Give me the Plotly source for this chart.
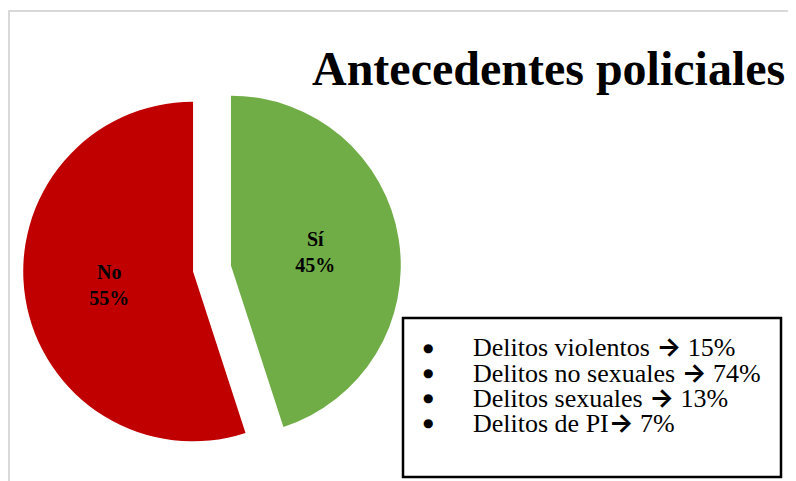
import plotly.graph_objects as go

labels = ["Sí", "No"]
values = [45, 55]
colors = ["#70AD47", "#C00000"]
pulls = [0.113, 0.113]

title_text = "Antecedentes policiales"
box_items = ["Delitos violentos", "Delitos no sexuales", "Delitos sexuales", "Delitos de PI"]
box_values = ["15%", "74%", "13%", "7%"]
box_sep = [" ", " ", " ", ""]

W, H = 796, 481
OFF = 8  # page body margin
SERIF = "Liberation Serif, Times New Roman, serif"


def px(x):
    return (x - OFF) / W


def py(y):
    return 1 - (y - OFF) / H


fig = go.Figure()
fig.add_trace(go.Pie(
    labels=labels, values=values, sort=False, direction="clockwise", rotation=0,
    pull=pulls,
    marker=dict(colors=colors, line=dict(width=0)),
    texttemplate="<b>%{label}<br>%{percent:.0%}</b>",
    textposition="inside", insidetextorientation="horizontal",
    textfont=dict(family=SERIF, size=20, color="#000000"),
    domain=dict(x=[px(23), px(401)], y=[py(457.5), py(79.5)]),
    showlegend=False, hoverinfo="label+percent",
))

shapes = [
    dict(type="rect", xref="paper", yref="paper", x0=px(9), x1=px(794), y0=py(495), y1=py(11),
         line=dict(color="#d9d9d9", width=2), fillcolor="rgba(0,0,0,0)", layer="below"),
    dict(type="rect", xref="paper", yref="paper", x0=px(403), x1=px(781), y0=py(477), y1=py(318),
         line=dict(color="#000000", width=2.5), fillcolor="#ffffff"),
]

annotations = [
    dict(text="<b>" + title_text + "</b>", xref="paper", yref="paper", x=px(787), y=py(68),
         xanchor="right", yanchor="middle", showarrow=False,
         font=dict(family=SERIF, size=48, color="#000000")),
]
line_y = [346.5, 372, 397, 422]
arrow = '<span style="font-family:Inter;font-weight:bold;font-size:26px">→</span>'
for i, (item, val, sep) in enumerate(zip(box_items, box_values, box_sep)):
    annotations.append(dict(text="●", xref="paper", yref="paper", x=px(428), y=py(line_y[i] + 1),
                            xanchor="center", yanchor="middle", showarrow=False,
                            font=dict(family="DejaVu Sans", size=12, color="#000000")))
    annotations.append(dict(text=item + sep + arrow + " " + val, xref="paper", yref="paper",
                            x=px(471), y=py(line_y[i]), xanchor="left", yanchor="middle",
                            showarrow=False, font=dict(family=SERIF, size=26, color="#000000")))

fig.update_layout(
    width=W, height=H, margin=dict(l=0, r=0, t=0, b=0),
    paper_bgcolor="#ffffff", plot_bgcolor="#ffffff",
    shapes=shapes, annotations=annotations,
)

fig.write_html("out.html")
